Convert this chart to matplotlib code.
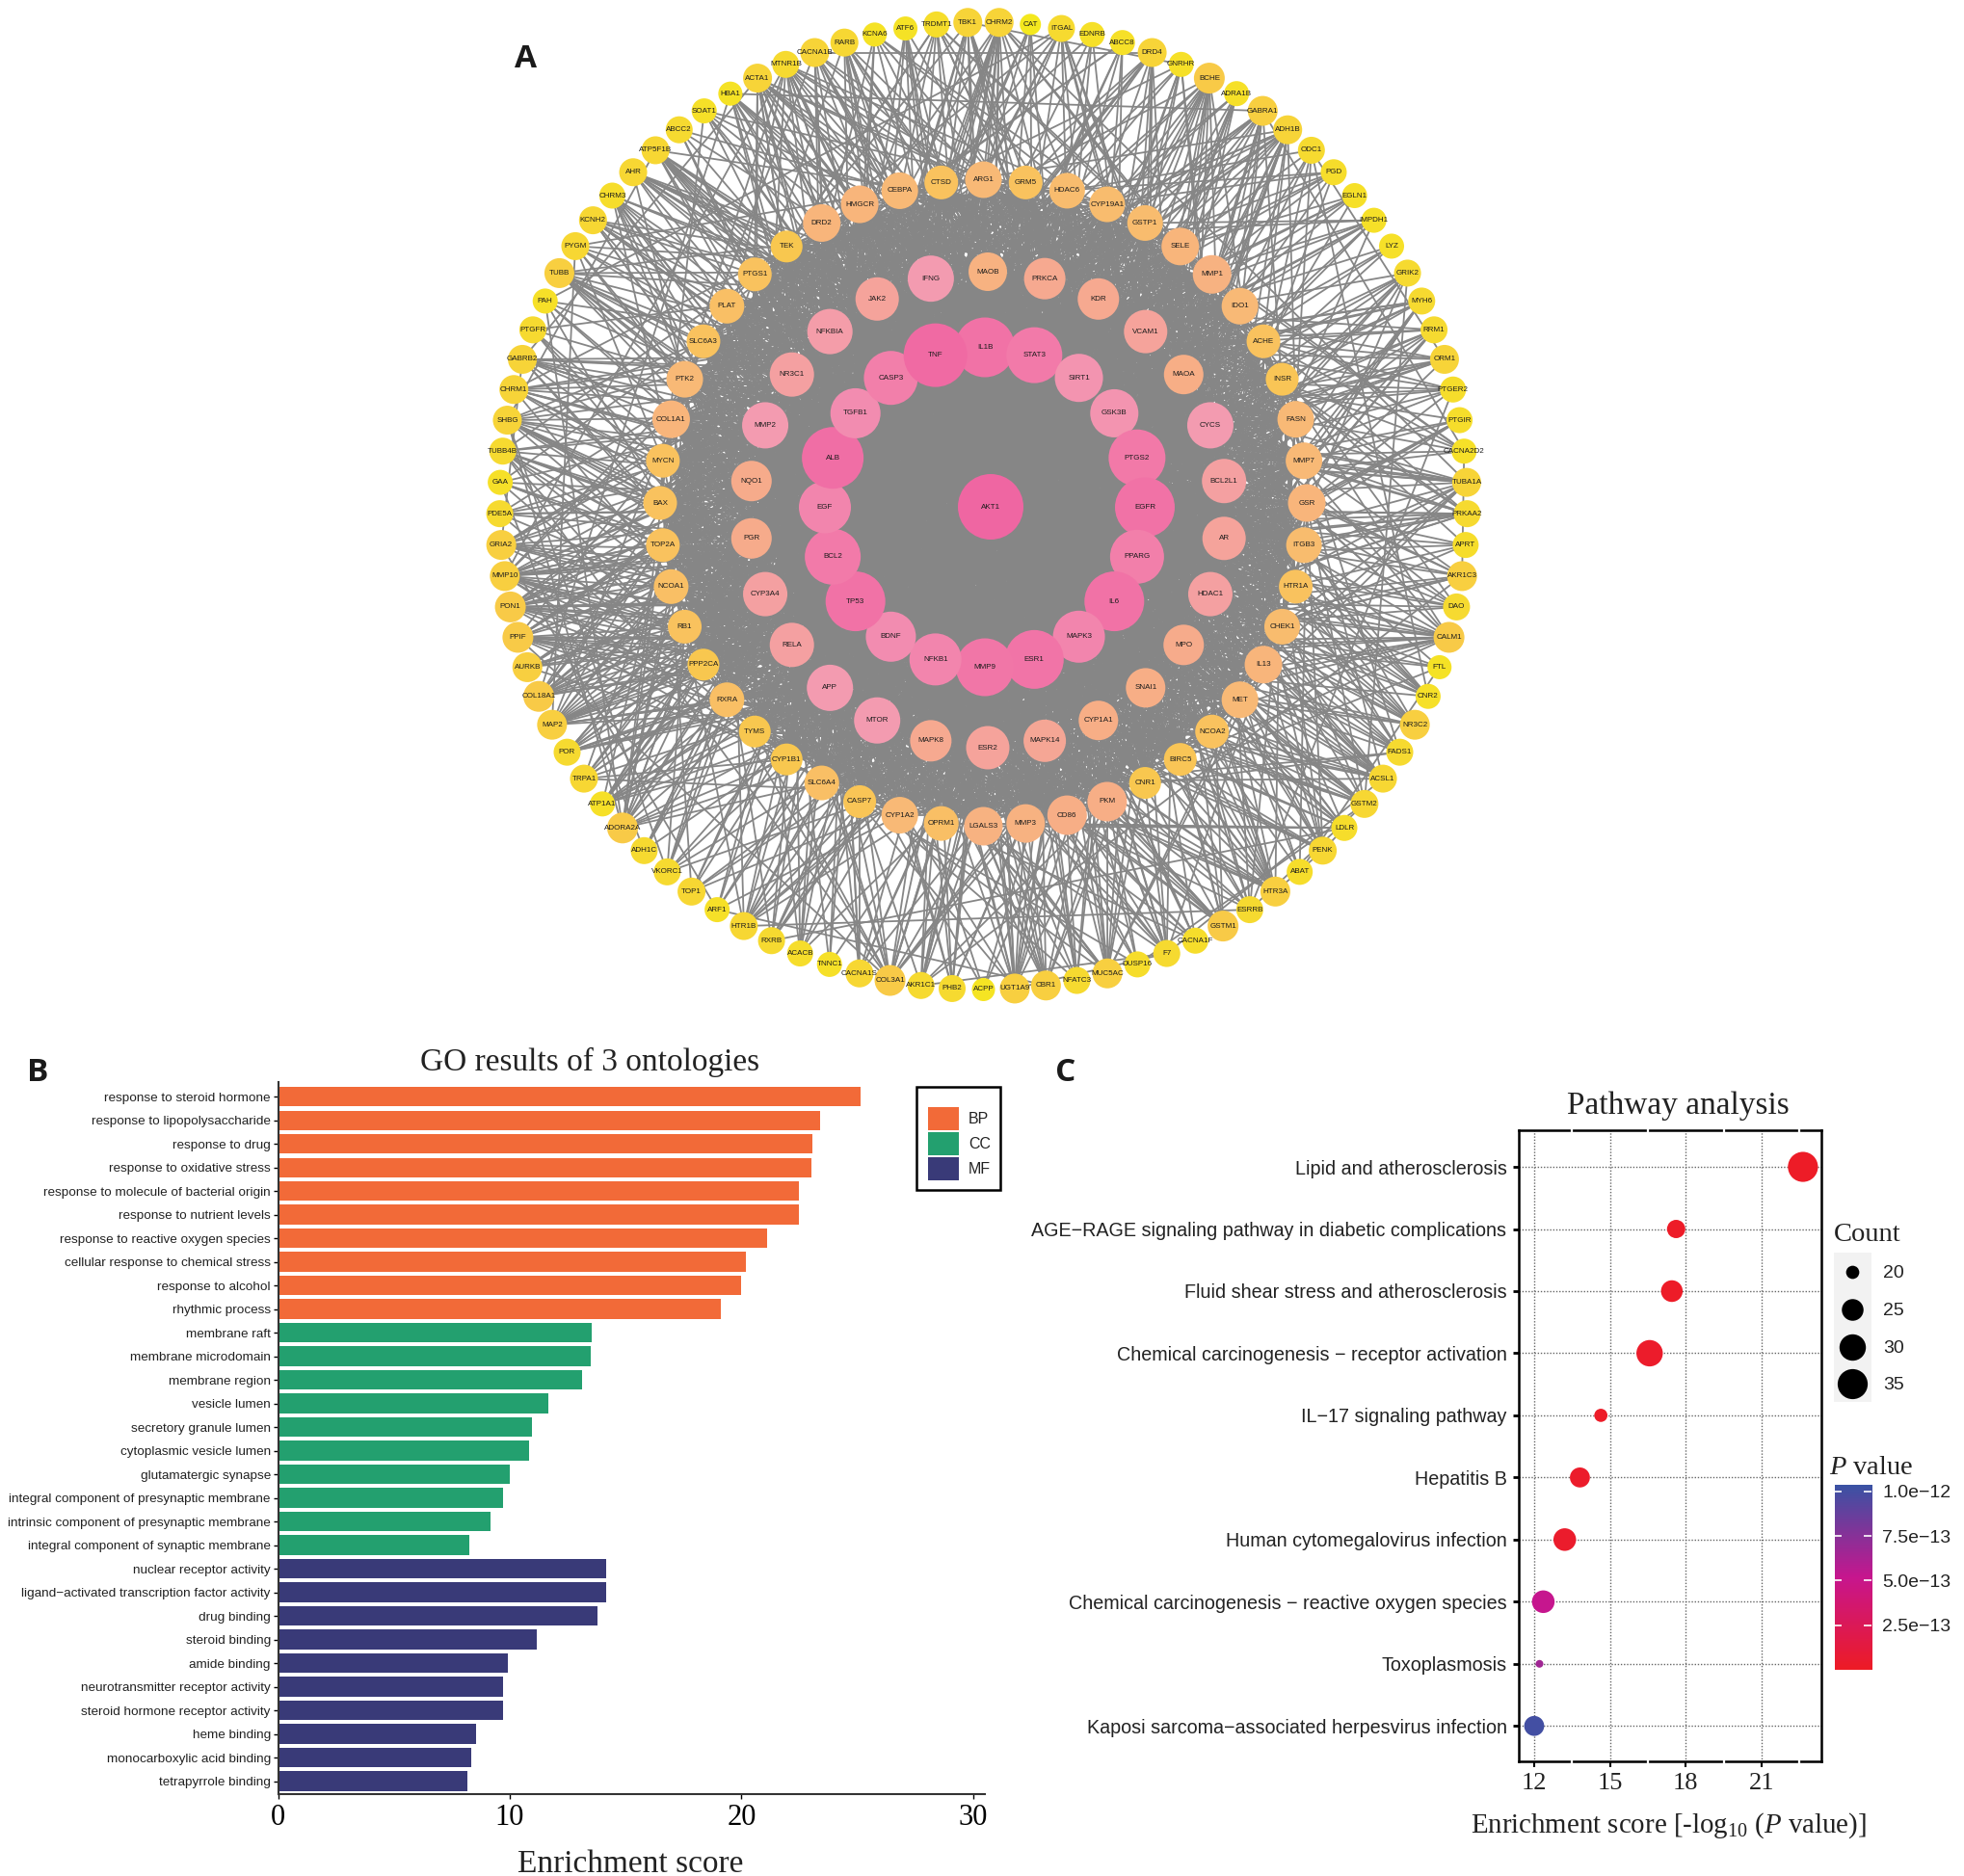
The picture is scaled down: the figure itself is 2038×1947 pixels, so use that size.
import numpy as np
import matplotlib
matplotlib.use("Agg")
import matplotlib.pyplot as plt
from matplotlib.collections import LineCollection, EllipseCollection
from matplotlib.colors import LinearSegmentedColormap, Normalize
from matplotlib.patches import Rectangle

plt.rcParams['font.family'] = ['Liberation Sans', 'DejaVu Sans']
plt.rcParams['mathtext.fontset'] = 'custom'
plt.rcParams['mathtext.rm'] = 'Liberation Serif'
plt.rcParams['mathtext.it'] = 'Liberation Serif:italic'
plt.rcParams['mathtext.bf'] = 'Liberation Serif:bold'

W, H = 2038, 1947
SERIF = 'Liberation Serif'

# ---------- network: nodes per ring, clockwise, with node degree score
outer_names = "TBK1 CHRM2 CAT ITGAL EDNRB ABCC8 DRD4 GNRHR BCHE ADRA1B GABRA1 ADH1B ODC1 PGD EGLN1 IMPDH1 LYZ GRIK2 MYH6 RRM1 ORM1 PTGER2 PTGIR CACNA2D2 TUBA1A PRKAA2 APRT AKR1C3 DAO CALM1 FTL CNR2 NR3C2 FADS1 ACSL1 GSTM2 LDLR PENK ABAT HTR3A ESRRB GSTM1 CACNA1F F7 DUSP16 MUC5AC NFATC3 CBR1 UGT1A9 ACPP PHB2 AKR1C1 COL3A1 CACNA1S TNNC1 ACACB RXRB HTR1B ARF1 TOP1 VKORC1 ADH1C ADORA2A ATP1A1 TRPA1 POR MAP2 COL18A1 AURKB PPIF PON1 MMP10 GRIA2 PDE5A GAA TUBB4B SHBG CHRM1 GABRB2 PTGFR PAH TUBB PYGM KCNH2 CHRM3 AHR ATP5F1B ABCC2 SOAT1 HBA1 ACTA1 MTNR1B CACNA1B RARB KCNA6 ATF6 TRDMT1".split()
outer_vals = [15,15,11,14,13,13,15,13,16,13,15.5,15,14,13.5,13,13,13,14,14,14,15,13.5,13.5,13,15,14,13.5,15.5,14,16,12.5,13,15.5,14,14.5,14.5,13.5,14.5,13.5,15.5,14,16,13.5,14,13.5,15.5,14,15.5,15.5,12,14,14,16,14.5,13,13.5,14,14.5,13,14.5,14,14,16,13,14.5,14,15.5,16,15.5,16,16,15.5,15.5,14,13,14,15,15,15,14,13,15.5,14.5,14.5,13.5,14.5,14.5,14,13,12.5,15,14,15,14.5,12.5,12.5,13.5]
ring2_names = "ARG1 GRM5 HDAC6 CYP19A1 GSTP1 SELE MMP1 IDO1 ACHE INSR FASN MMP7 GSR ITGB3 HTR1A CHEK1 IL13 MET NCOA2 BIRC5 CNR1 PKM CD86 MMP3 LGALS3 OPRM1 CYP1A2 CASP7 SLC6A4 CYP1B1 TYMS RXRA PPP2CA RB1 NCOA1 TOP2A BAX MYCN COL1A1 PTK2 SLC6A3 PLAT PTGS1 TEK DRD2 HMGCR CEBPA CTSD".split()
ring2_vals = [19,17.5,18.5,18.5,18.5,19.5,20,19,17.5,17,19,19,19.5,18.5,17.5,18.5,19.5,19,17.5,17,16.5,20.5,20.5,20,20,18,19,17,18,16.5,16.5,18,16.5,17.5,18,17.5,17.5,17.5,19.5,19,17.5,18,17.5,16.5,19.5,19.5,19,17.5]
ring3_names = "MAOB PRKCA KDR VCAM1 MAOA CYCS BCL2L1 AR HDAC1 MPO SNAI1 CYP1A1 MAPK14 ESR2 MAPK8 MTOR APP RELA CYP3A4 PGR NQO1 MMP2 NR3C1 NFKBIA JAK2 IFNG".split()
ring3_vals = [20,21.5,21.5,22.5,20.5,24,23,22.5,23,21,20.5,20.5,22,22.5,21.5,24,24,23,23,21,21,24,23,23.5,22.5,24]
ring4_names = "IL1B STAT3 SIRT1 GSK3B PTGS2 EGFR PPARG IL6 MAPK3 ESR1 MMP9 NFKB1 BDNF TP53 BCL2 EGF ALB TGFB1 CASP3 TNF".split()
ring4_vals = [31,29,25,25,29.5,31,28,31,27,30.5,30,27,26,31,29,27,32,26,28,33]
hub_names = ["AKT1"]
hub_vals = [34]

# ---------- panel B
go_terms = ["response to steroid hormone","response to lipopolysaccharide","response to drug","response to oxidative stress","response to molecule of bacterial origin","response to nutrient levels","response to reactive oxygen species","cellular response to chemical stress","response to alcohol","rhythmic process",
"membrane raft","membrane microdomain","membrane region","vesicle lumen","secretory granule lumen","cytoplasmic vesicle lumen","glutamatergic synapse","integral component of presynaptic membrane","intrinsic component of presynaptic membrane","integral component of synaptic membrane",
"nuclear receptor activity","ligand\u2212activated transcription factor activity","drug binding","steroid binding","amide binding","neurotransmitter receptor activity","steroid hormone receptor activity","heme binding","monocarboxylic acid binding","tetrapyrrole binding"]
go_scores = [25.13,23.39,23.05,23.0,22.49,22.46,21.11,20.19,19.99,19.09,13.52,13.49,13.1,11.67,10.94,10.82,10.0,9.73,9.17,8.27,14.17,14.17,13.78,11.16,9.9,9.73,9.7,8.55,8.32,8.15]
go_groups = ["BP"]*10 + ["CC"]*10 + ["MF"]*10
go_colors = {"BP":"#F26A38","CC":"#23A06F","MF":"#393A78"}

# ---------- panel C
pw_names = ["Lipid and atherosclerosis","AGE\u2212RAGE signaling pathway in diabetic complications","Fluid shear stress and atherosclerosis","Chemical carcinogenesis \u2212 receptor activation","IL\u221217 signaling pathway","Hepatitis B","Human cytomegalovirus infection","Chemical carcinogenesis \u2212 reactive oxygen species","Toxoplasmosis","Kaposi sarcoma\u2212associated herpesvirus infection"]
pw_scores = [22.64,17.62,17.45,16.57,14.64,13.81,13.21,12.36,12.21,12.0]
pw_counts = [35,23,25,30,20,24,26,26,16,24]
pw_pvals = [1e-14,2e-14,2e-14,3e-14,2e-14,3e-14,4e-14,5.2e-13,6.6e-13,1e-12]
count_keys = [20,25,30,35]
p_ticks = [2.5e-13,5e-13,7.5e-13,1e-12]
p_labels = ["2.5e\u221213","5.0e\u221213","7.5e\u221213","1.0e\u221212"]

fig = plt.figure(figsize=(W/100, H/100), dpi=100, facecolor='white')
def axpx(l, t, r, b, **kw):
    return fig.add_axes([l/W, 1-b/H, (r-l)/W, (b-t)/H], **kw)

# ================= A : network =================
net = axpx(0, 0, W, H)
net.set_xlim(0, W); net.set_ylim(H, 0); net.axis('off')

rings = [
    (outer_names, outer_vals, 1020.5, 525, 502, -0.5),
    (ring2_names, ring2_vals, 1020.5, 522, 335.5, 0),
    (ring3_names, ring3_vals, 1025, 529, 247, 0),
    (ring4_names, ring4_vals, 1022, 526.5, 166, 0),
]
xs, ys, vals, names, ring_id = [], [], [], [], []
for k, (nm, vl, cx, cy, rad, off) in enumerate(rings):
    th = 2*np.pi*(np.arange(len(nm))+off)/len(nm)
    xs += list(cx+rad*np.sin(th)); ys += list(cy-rad*np.cos(th))
    vals += vl; names += nm; ring_id += [k]*len(nm)
xs += [1028]; ys += [526]; vals += hub_vals; names += hub_names; ring_id += [4]
xs, ys, vals, ring_id = map(np.array, (xs, ys, vals, ring_id))

# Edge density between rings (individual edges cannot be read from the hairball)
density = np.array([
    [0.014,0.05,0.09,0.20,0.7],
    [0.05,0.30,0.52,0.85,1.0],
    [0.09,0.52,0.7,1.0,1.0],
    [0.20,0.85,1.0,1.0,1.0],
    [0.7,1.0,1.0,1.0,1.0]])
def mix(i, j):
    h = (i*2654435761 + j*40503 + i*j*97 + 12345) & 0xFFFFFFFF
    h ^= h >> 13; h = (h*1274126177) & 0xFFFFFFFF; h ^= h >> 16
    return h/0xFFFFFFFF
segs = []
n = len(xs)
for i in range(n):
    for j in range(i+1, n):
        p = density[ring_id[i], ring_id[j]]
        if ring_id[i] == 0: p *= (vals[i]-10)/4
        if ring_id[j] == 0: p *= (vals[j]-10)/4
        if mix(i, j) < p:
            segs.append([(xs[i], ys[i]), (xs[j], ys[j])])
net.add_collection(LineCollection(segs, colors='#868686', linewidths=1.3, zorder=1))

node_cmap = LinearSegmentedColormap.from_list('deg', [
    (0.0,'#F4E81E'),(2/23,'#F6E028'),(4/23,'#F7D438'),(5/23,'#F8CA48'),(6.5/23,'#F9C25E'),(8/23,'#F8B976'),
    (9.5/23,'#F7AE86'),(11.5/23,'#F5A39A'),(13/23,'#F39BB0'),(15/23,'#F28CB0'),(17/23,'#F27FAA'),(20/23,'#F172A6'),(1.0,'#EF66A2')])
node_norm = Normalize(11, 34)
net.add_collection(EllipseCollection(2*vals, 2*vals, np.zeros(n), units='xy', offsets=np.c_[xs, ys],
                   transOffset=net.transData, facecolors=node_cmap(node_norm(vals)), edgecolors='none', zorder=2))
for x, y, t in zip(xs, ys, names):
    net.text(x, y, t, fontsize=5.8, ha='center', va='center', color='#1c1c1c', zorder=3)

for t, x, y in [("A",546,62),("B",39,1114),("C",1105.5,1114)]:
    net.text(x, y, t, fontsize=24, fontweight='bold', family='Open Sans', ha='center', va='center', color='#1a1a1a')

# ================= B : bars =================
axb = axpx(288.5, 1123, 1022, 1862)
axb.patch.set_visible(False)
pos = np.arange(len(go_terms))
axb.barh(pos, go_scores, height=0.83, color=[go_colors[g] for g in go_groups], edgecolor='none')
axb.set_ylim(len(go_terms)-1+0.55, -0.62)
axb.set_xlim(0, 30.5)
axb.set_yticks(pos); axb.set_yticklabels(go_terms, fontsize=9.7, color='#222222')
axb.set_xticks([0,10,20,30]); axb.set_xticklabels(['0','10','20','30'], fontsize=22, family=SERIF)
axb.tick_params(axis='y', length=3.5, width=1, pad=2)
axb.tick_params(axis='x', length=3.5, width=1, pad=4)
for s in ['top','right']: axb.spines[s].set_visible(False)
for s in ['left','bottom']: axb.spines[s].set_linewidth(1.5); axb.spines[s].set_color('#333333')
net.text(612, 1102, "GO results of 3 ontologies", fontsize=24, family=SERIF, ha='center', va='center', color='#222222')
net.text(654.5, 1935, "Enrichment score", fontsize=24, family=SERIF, ha='center', va='center', color='#222222')
# legend box
net.add_patch(Rectangle((951, 1128), 87, 107, facecolor='white', edgecolor='black', linewidth=1.8, zorder=4))
for k, y0 in zip(go_colors, [1149, 1175, 1201]):
    net.add_patch(Rectangle((963, y0), 32, 24, facecolor=go_colors[k], edgecolor='none', zorder=5))
    net.text(1005, y0+12, k, fontsize=11.5, ha='left', va='center', color='#222222', zorder=5)

# ================= C : dots =================
axc = axpx(1576, 1173, 1890, 1828)
p_cmap = LinearSegmentedColormap.from_list('p', ['#EE1C25','#C7168E','#3A53A4'])
p_norm = Normalize(0, 1.036e-12)
d_count = [16,20,25,30,35]; d_px = [8,13.7,22.5,27.4,31.2]
def area(c):
    return (np.interp(c, d_count, d_px)*0.72)**2
yc = np.arange(len(pw_names))
axc.set_ylim(len(pw_names)-1+0.57, -0.59)
axc.set_xlim(11.39, 23.37)
majors = [12,15,18,21]
axc.hlines(yc, 11.39, 23.37, colors='#666666', linestyles=(0,(1,1.3)), linewidth=1, zorder=1)
axc.vlines(majors, -1, 10, colors='#666666', linestyles=(0,(1,1.3)), linewidth=1, zorder=1)
axc.scatter(pw_scores, yc, s=area(np.array(pw_counts)), c=p_cmap(p_norm(pw_pvals)), linewidths=0, zorder=3)
axc.set_yticks(yc); axc.set_yticklabels(pw_names, fontsize=14.2, color='#222222')
axc.set_xticks(majors); axc.set_xticklabels([str(m) for m in majors], fontsize=19, family=SERIF, color='#222222')
axc.set_xticks([13.5,16.5,19.5,22.5], minor=True)
axc.tick_params(axis='y', length=4.5, width=2, pad=4.5)
axc.tick_params(axis='x', which='major', length=4.5, width=1.5, pad=4)
axc.tick_params(axis='x', which='minor', length=3, width=1.6, color='white', direction='inout', top=True, bottom=True)
axc.xaxis.set_zorder(4)
for s in axc.spines.values(): s.set_linewidth(1.8)
net.text(1741, 1148, "Pathway analysis", fontsize=24, family=SERIF, ha='center', va='center', color='#222222')
net.text(1731, 1895, r"Enrichment score [-log$_{10}$ ($P$ value)]", fontsize=20.8, family=SERIF, ha='center', va='center', color='#222222')

# count legend
net.text(1903, 1281, "Count", fontsize=20.5, family=SERIF, ha='left', va='center', color='#222222')
net.add_patch(Rectangle((1903, 1300), 39, 155, facecolor='#F2F2F2', edgecolor='none', zorder=1))
for c, y in zip(count_keys, [1320,1358.6,1397.7,1436]):
    net.scatter([1922], [y], s=area(c), c='black', linewidths=0, zorder=2)
    net.text(1954, y+2, str(c), fontsize=14, ha='left', va='center', color='#222222')

# P colour bar
net.text(1898, 1524, r"$P$ value", fontsize=20.5, family=SERIF, ha='left', va='center', color='#222222')
axcb = axpx(1903.5, 1541, 1942, 1733)
grad = np.linspace(0, 1.036e-12, 256).reshape(-1, 1)
axcb.imshow(grad, aspect='auto', origin='lower', cmap=p_cmap, norm=p_norm, extent=[0, 1, 0, 1.036e-12])
for s in axcb.spines.values(): s.set_visible(False)
axcb.set_xticks([])
axcb.hlines(p_ticks, 0, 0.2, colors='white', linewidth=1.2)
axcb.hlines(p_ticks, 0.8, 1, colors='white', linewidth=1.2)
axcb.yaxis.tick_right()
axcb.set_yticks(p_ticks); axcb.set_yticklabels(p_labels, fontsize=14, color='#222222')
axcb.tick_params(axis='y', length=0, pad=8)
axcb.set_ylim(0, 1.036e-12); axcb.set_xlim(0, 1)

fig.savefig('out.png', dpi=100)
